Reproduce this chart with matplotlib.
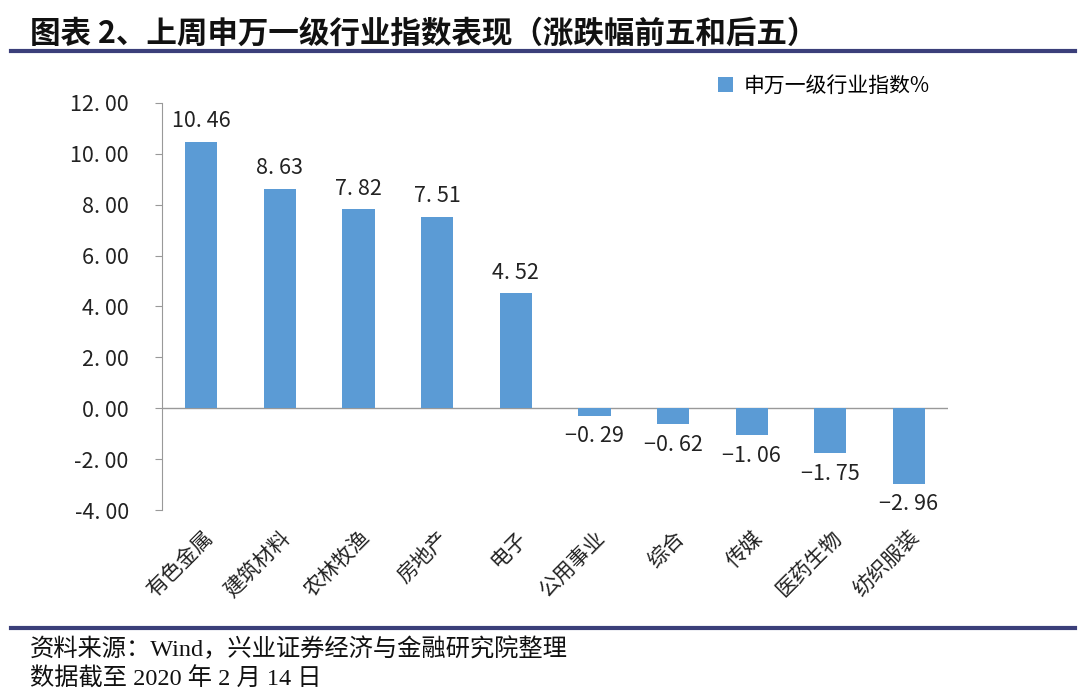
import matplotlib
matplotlib.use("Agg")
import matplotlib.pyplot as plt
from matplotlib.lines import Line2D

plt.rcParams['font.family'] = ['Noto Sans CJK SC', 'DejaVu Sans']

categories = ["有色金属", "建筑材料", "农林牧渔", "房地产", "电子",
              "公用事业", "综合", "传媒", "医药生物", "纺织服装"]
values = [10.46, 8.63, 7.82, 7.51, 4.52, -0.29, -0.62, -1.06, -1.75, -2.96]
yticks = [-4, -2, 0, 2, 4, 6, 8, 10, 12]
series_name = "申万一级行业指数%"
title = "图表 2、上周申万一级行业指数表现（涨跌幅前五和后五）"
source1 = "资料来源：Wind，兴业证券经济与金融研究院整理"
source2 = "数据截至 2020 年 2 月 14 日"

fig = plt.figure(figsize=(10.8, 6.95), dpi=100)
ax = fig.add_axes([0.15, 0.266, 0.728, 0.586])

bar_color = "#5B9BD5"
x = list(range(len(categories)))
bars = ax.bar(x, values, width=0.41, color=bar_color, label=series_name, zorder=3)

ax.set_xlim(-0.5, len(categories) - 0.5)
ax.set_ylim(-4, 12)
ax.set_yticks(yticks)
ax.set_yticklabels([f"{v:.2f}".replace(".", ". ") for v in yticks], fontsize=15.5, color="#222222")

for s in ["top", "right", "bottom"]:
    ax.spines[s].set_visible(False)
ax.spines["left"].set_color("#999999")
ax.axhline(0, color="#999999", lw=1, zorder=2)
ax.tick_params(axis="y", direction="out", length=5, color="#999999", pad=19)
ax.tick_params(axis="x", length=0, pad=12)

ax.set_xticks(x)
ax.set_xticklabels(categories, rotation=45, ha="right", rotation_mode="anchor",
                   fontsize=15, color="#222222")

for xi, v in zip(x, values):
    txt = f"{v:.2f}".replace(".", ". ").replace("-", "\u2212")
    if v >= 0:
        ax.annotate(txt, (xi, v), xytext=(0, 7), textcoords="offset points",
                    ha="center", va="bottom", fontsize=15.5, color="#222222")
    else:
        ax.annotate(txt, (xi, v), xytext=(0, -7), textcoords="offset points",
                    ha="center", va="top", fontsize=15.5, color="#222222")

leg = ax.legend(loc="upper right", bbox_to_anchor=(1.0, 1.115), frameon=False,
                fontsize=15, handlelength=0.7, handleheight=0.7, handletextpad=0.5)

# title and rules
fig.text(0.028, 0.952, title, fontsize=22, fontweight="bold", ha="left", va="center",
         color="#111111")
fig.add_artist(Line2D([0.01, 0.995], [0.927, 0.927], color="#3B3F7A", lw=3))
fig.add_artist(Line2D([0.01, 0.995], [0.096, 0.096], color="#3B3F7A", lw=3))

fig.text(0.028, 0.065, source1, fontsize=17.5, ha="left", va="center",
         family=['Liberation Serif', 'Noto Sans CJK SC'], color="#111111")
fig.text(0.028, 0.023, source2, fontsize=17.5, ha="left", va="center",
         family=['Liberation Serif', 'Noto Sans CJK SC'], color="#111111")

fig.savefig("out.png", dpi=100)
